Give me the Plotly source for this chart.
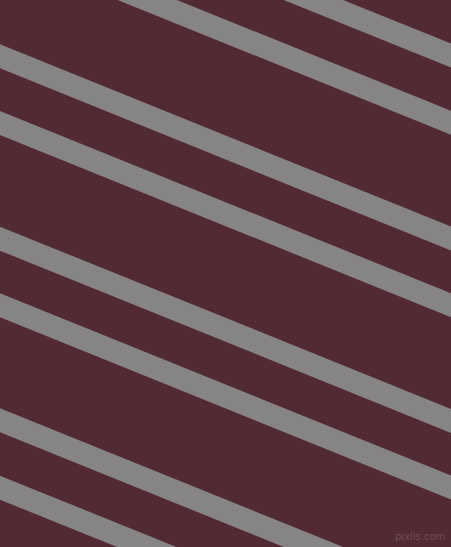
import plotly.graph_objects as go

# -----------------------------------------------------------------------------
# Données : bandes diagonales (bord haut à x=0), pente et épaisseur
# -----------------------------------------------------------------------------
bandes_origine_y = [-138.6, -71.5, 44.3, 111.0, 226.7, 293.3, 408.3, 475.7]
pente = 0.404
epaisseur = 24

LARGEUR, HAUTEUR = 451, 547
FOND = "#512A33"
GRIS = "#878485"

fig = go.Figure()

for c in bandes_origine_y:
    xs = [0, LARGEUR, LARGEUR, 0, 0]
    ys = [
        c,
        c + pente * LARGEUR,
        c + pente * LARGEUR + epaisseur,
        c + epaisseur,
        c,
    ]
    fig.add_trace(
        go.Scatter(
            x=xs,
            y=ys,
            mode="lines",
            fill="toself",
            fillcolor=GRIS,
            line=dict(width=0, color=GRIS),
            hoverinfo="skip",
            showlegend=False,
        )
    )

fig.add_annotation(
    text="pixlis.com",
    x=1,
    y=0,
    xref="paper",
    yref="paper",
    xanchor="right",
    yanchor="bottom",
    xshift=-4,
    yshift=3,
    showarrow=False,
    font=dict(family="DejaVu Sans", size=10, color="#6E5058"),
)

fig.update_layout(
    width=LARGEUR,
    height=HAUTEUR,
    margin=dict(l=0, r=0, t=0, b=0),
    paper_bgcolor=FOND,
    plot_bgcolor=FOND,
    xaxis=dict(range=[0, LARGEUR], visible=False, fixedrange=True),
    yaxis=dict(range=[HAUTEUR, 0], visible=False, fixedrange=True),
)

# la page ne doit pas ajouter de marge autour du graphique
fig.write_html(
    "out.html",
    config={"displayModeBar": False},
    post_script="document.body.style.margin='0';document.body.style.overflow='hidden';",
)
